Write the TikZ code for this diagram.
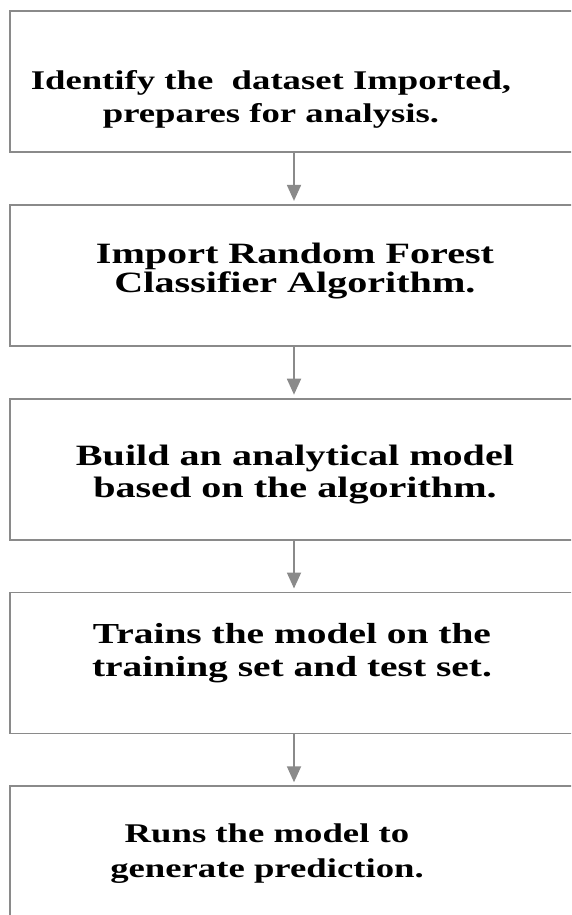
\documentclass[tikz,border=0pt]{standalone}
\usepackage{fontspec}
\newfontfamily\boxfont{Liberation Serif}[FakeStretch=1.36]
\usepackage{tikz}
\usetikzlibrary{arrows.meta, positioning}
\definecolor{linegray}{RGB}{138,138,138}
\tikzstyle{stepbox} = [rectangle, draw = linegray, line width = 1.8pt, minimum width = 568pt, minimum height = 141pt, inner sep = 0pt]
\tikzstyle{steptext} = [anchor = base, align = center, inner sep = 0pt, font = \boxfont\bfseries\fontsize{29}{32}\selectfont]
\tikzstyle{post} = [-{Triangle[width = 14pt, length = 16pt]}, draw = linegray, line width = 1.8pt, shorten >= 3pt]

\begin{document}
\begin{tikzpicture}[node distance = 51pt]
        \path[use as bounding box, clip] (0,0) rectangle (571pt,-915pt);
        % draw boxes
        \node[stepbox] (b1) at (294pt,-81.5pt) {};
        \node[stepbox] (b2) [below = of b1] {};
        \node[stepbox] (b3) [below = of b2] {};
        \node[stepbox] (b4) [below = of b3] {};
        \node[stepbox] (b5) [below = of b4] {};
        % draw texts (anchored at the baseline of the last line)
        \node[steptext, font = \boxfont\bfseries\fontsize{27}{33}\selectfont] (t1) at (271pt,-123pt)
            {Identify the\ \ dataset Imported,\\prepares for analysis.};
        \node[steptext, font = \boxfont\bfseries\fontsize{29.5}{29}\selectfont] (t2) at (295pt,-292.7pt)
            {Import Random Forest\\Classifier Algorithm.};
        \node[steptext, font = \boxfont\bfseries\fontsize{29.5}{32}\selectfont] (t3) at (295pt,-497pt)
            {Build an analytical model\\based on the algorithm.};
        \node[steptext, font = \boxfont\bfseries\fontsize{29}{33.5}\selectfont] (t4) at (292pt,-676.7pt)
            {Trains the model on the\\training set and test set.};
        \node[steptext, font = \boxfont\bfseries\fontsize{27}{35}\selectfont] (t5) at (267pt,-877pt)
            {Runs the model to\\generate prediction.};
        % draw arrows
        \draw[post] (b1) -- (b2);
        \draw[post] (b2) -- (b3);
        \draw[post] (b3) -- (b4);
        \draw[post] (b4) -- (b5);
    \end{tikzpicture}
\end{document}
